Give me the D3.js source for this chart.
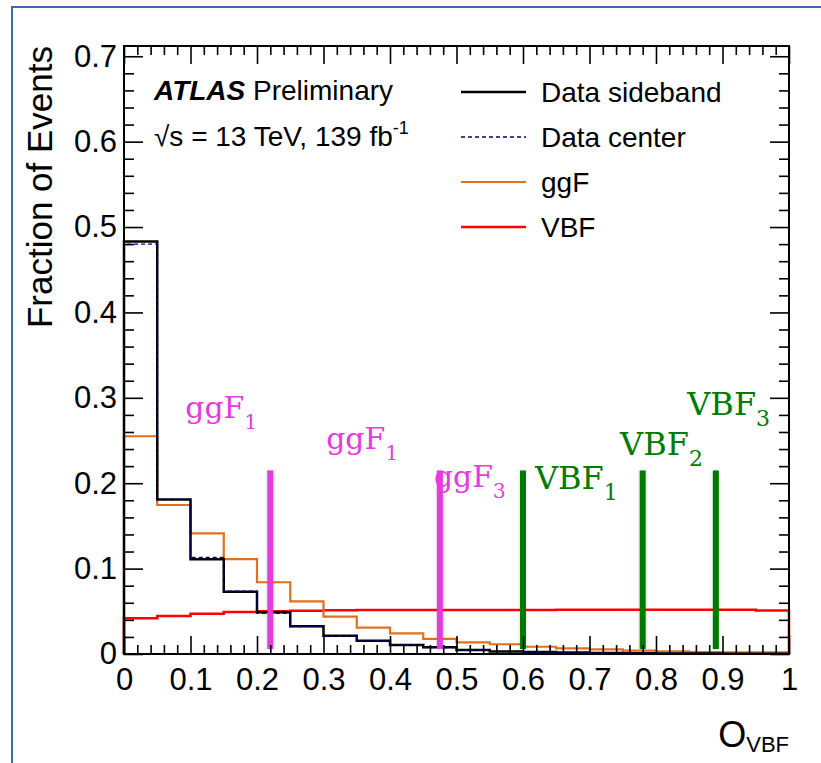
<!DOCTYPE html>
<html><head><meta charset="utf-8">
<script src="https://cdn.jsdelivr.net/npm/d3@7/dist/d3.min.js"></script>
<style>body{margin:0;background:#fff} svg{display:block}</style>
</head><body>
<svg id="c" width="821" height="763"></svg>
<script>
// ---------- data ----------
const binLow = [0.00,0.05,0.10,0.15,0.20,0.25,0.30,0.35,0.40,0.45,0.50,0.55,0.60,0.65,0.70,0.75,0.80,0.85,0.90,0.95];
const binWidth = 0.05;
const dataSideband = [0.483,0.181,0.111,0.073,0.049,0.0324,0.0215,0.0156,0.0105,0.0078,0.0047,0.0030,0.0023,0.0018,0.0012,0.0009,0.0007,0.0005,0.0004,0.0003];
const dataCenter   = [0.480,0.181,0.113,0.0735,0.0475,0.0320,0.0210,0.0153,0.0103,0.0075,0.0046,0.0030,0.0022,0.0017,0.0012,0.0009,0.0007,0.0005,0.0004,0.0003];
const ggF          = [0.255,0.1745,0.1413,0.111,0.084,0.0617,0.0437,0.0308,0.0242,0.0176,0.0137,0.0114,0.0085,0.0067,0.0055,0.0039,0.0030,0.0023,0.0020,0.0018];
const vbf          = [0.0418,0.0445,0.0472,0.0492,0.0500,0.0507,0.0512,0.0514,0.0515,0.0515,0.0515,0.0516,0.0516,0.0517,0.0517,0.0517,0.0518,0.0518,0.0517,0.0508];

const xTicks = [0,0.1,0.2,0.3,0.4,0.5,0.6,0.7,0.8,0.9,1];
const xTickLabels = ["0","0.1","0.2","0.3","0.4","0.5","0.6","0.7","0.8","0.9","1"];
const yTicks = [0,0.1,0.2,0.3,0.4,0.5,0.6,0.7];
const yTickLabels = ["0","0.1","0.2","0.3","0.4","0.5","0.6","0.7"];

const ggfCuts = [0.22, 0.475];
const vbfCuts = [0.60, 0.78, 0.89];
const cutRange = [0.006, 0.215];

const cutLabelNames = ["ggF","ggF","ggF","VBF","VBF","VBF"];
const cutLabelSubs  = ["1","1","3","1","2","3"];
const cutLabelX     = [0.092,0.304,0.466,0.618,0.746,0.847];
const cutLabelY     = [0.276,0.240,0.196,0.193,0.233,0.280];

const legendNames = ["Data sideband","Data center","ggF","VBF"];

// ---------- layout ----------
const svg = d3.select("#c");
const X0=124, X1=789, Y0=654, Y1=46;
const x = d3.scaleLinear().domain([0,1]).range([X0,X1]);
const y = d3.scaleLinear().domain([0,0.712]).range([Y0,Y1]);
const SANS = "'Liberation Sans', Arial, Helvetica, sans-serif";
const SERIF = "'DejaVu Serif', 'Liberation Serif', serif";

const colSide="#000000", colCenter="#000080", colGGF="#e0701a", colVBF="#ff0000";
const colMag="#e43ade", colGreen="#007a00";

// outer blue border
svg.append("rect").attr("x",12).attr("y",7).attr("width",900).attr("height",900)
  .attr("fill","none").attr("stroke","#3e6aa8").attr("stroke-width",2);

// defs: soft shadow for cut lines
const defs = svg.append("defs");
const f = defs.append("filter").attr("id","sh").attr("filterUnits","userSpaceOnUse")
  .attr("x",0).attr("y",0).attr("width",821).attr("height",763);
f.append("feGaussianBlur").attr("in","SourceAlpha").attr("stdDeviation",1.8).attr("result","b");
f.append("feComponentTransfer").attr("in","b").attr("result","b2")
  .append("feFuncA").attr("type","linear").attr("slope",0.22);
const m = f.append("feMerge"); m.append("feMergeNode").attr("in","b2"); m.append("feMergeNode").attr("in","SourceGraphic");

// histograms
function histPts(vals){
  const pts=[[binLow[0],0]];
  vals.forEach((v,i)=>{pts.push([binLow[i],v]);pts.push([binLow[i]+binWidth,v]);});
  pts.push([binLow[binLow.length-1]+binWidth,0]);
  return pts;
}
const line = d3.line().x(d=>x(d[0])).y(d=>y(d[1]));
const plot = svg.append("g");
plot.append("path").attr("d",line(histPts(vbf))).attr("fill","none").attr("stroke",colVBF).attr("stroke-width",2.5);
plot.append("path").attr("d",line(histPts(ggF))).attr("fill","none").attr("stroke",colGGF).attr("stroke-width",2.2);
plot.append("path").attr("d",line(histPts(dataSideband))).attr("fill","none").attr("stroke",colSide).attr("stroke-width",2.5);
plot.append("path").attr("d",line(histPts(dataCenter))).attr("fill","none").attr("stroke",colCenter).attr("stroke-width",1.3).attr("stroke-dasharray","4,3");

// cut lines
ggfCuts.forEach(c=>plot.append("line").attr("x1",x(c)).attr("x2",x(c)).attr("y1",y(cutRange[0])).attr("y2",y(cutRange[1]))
  .attr("stroke",colMag).attr("stroke-width",6).attr("filter","url(#sh)"));
vbfCuts.forEach(c=>plot.append("line").attr("x1",x(c)).attr("x2",x(c)).attr("y1",y(cutRange[0])).attr("y2",y(cutRange[1]))
  .attr("stroke",colGreen).attr("stroke-width",6).attr("filter","url(#sh)"));

// cut labels
cutLabelNames.forEach((n,i)=>{
  const big = n==="ggF" ? 30 : 32;
  const t = svg.append("text").attr("x",x(cutLabelX[i])).attr("y",y(cutLabelY[i]))
    .attr("font-family",SERIF).attr("font-size",big).attr("fill", n==="ggF"?colMag:colGreen);
  t.append("tspan").text(n);
  t.append("tspan").attr("font-size",Math.round(big*0.68)).attr("dy",11).text(cutLabelSubs[i]);
});

// axes
function styleAxis(g){ g.select(".domain").remove(); g.selectAll("line").attr("stroke","#000").attr("stroke-width",1.6);
  g.selectAll("text").attr("font-family",SANS).attr("font-size",31).attr("fill","#000"); }
const xMinor = d3.range(0,1.0001,0.02).filter(v=>Math.abs(v*10-Math.round(v*10))>1e-6);
const yMinor = d3.range(0,0.711,0.02).filter(v=>Math.abs(v*10-Math.round(v*10))>1e-6);

svg.append("g").attr("transform",`translate(0,${Y0})`)
  .call(d3.axisBottom(x).tickValues(xTicks).tickFormat((d,i)=>xTickLabels[i]).tickSizeInner(-18).tickSizeOuter(0).tickPadding(14)).call(styleAxis);
svg.append("g").attr("transform",`translate(0,${Y0})`)
  .call(d3.axisBottom(x).tickValues(xMinor).tickFormat("").tickSizeInner(-9).tickSizeOuter(0)).call(styleAxis);
svg.append("g").attr("transform",`translate(0,${Y1})`)
  .call(d3.axisTop(x).tickValues(xTicks).tickFormat("").tickSizeInner(-18).tickSizeOuter(0)).call(styleAxis);
svg.append("g").attr("transform",`translate(0,${Y1})`)
  .call(d3.axisTop(x).tickValues(xMinor).tickFormat("").tickSizeInner(-9).tickSizeOuter(0)).call(styleAxis);

svg.append("g").attr("transform",`translate(${X0},0)`)
  .call(d3.axisLeft(y).tickValues(yTicks).tickFormat((d,i)=>yTickLabels[i]).tickSizeInner(-19).tickSizeOuter(0).tickPadding(7)).call(styleAxis);
svg.append("g").attr("transform",`translate(${X0},0)`)
  .call(d3.axisLeft(y).tickValues(yMinor).tickFormat("").tickSizeInner(-10).tickSizeOuter(0)).call(styleAxis);
svg.append("g").attr("transform",`translate(${X1},0)`)
  .call(d3.axisRight(y).tickValues(yTicks).tickFormat("").tickSizeInner(-19).tickSizeOuter(0)).call(styleAxis);
svg.append("g").attr("transform",`translate(${X1},0)`)
  .call(d3.axisRight(y).tickValues(yMinor).tickFormat("").tickSizeInner(-10).tickSizeOuter(0)).call(styleAxis);

// frame
svg.append("rect").attr("x",X0).attr("y",Y1).attr("width",X1-X0).attr("height",Y0-Y1)
  .attr("fill","none").attr("stroke","#000").attr("stroke-width",2);

// axis titles
const xt = svg.append("text").attr("x",X1).attr("y",747).attr("text-anchor","end")
  .attr("font-family",SANS).attr("font-size",36);
xt.append("tspan").text("O");
xt.append("tspan").attr("font-size",22).attr("dy",5).text("VBF");
svg.append("text").attr("transform",`translate(52,${Y1}) rotate(-90)`).attr("text-anchor","end")
  .attr("font-family",SANS).attr("font-size",35).text("Fraction of Events");

// ATLAS label
const at = svg.append("text").attr("x",154).attr("y",100).attr("font-family",SANS).attr("font-size",28);
at.append("tspan").attr("font-weight","bold").attr("font-style","italic").text("ATLAS");
at.append("tspan").text(" Preliminary");
const en = svg.append("text").attr("x",154).attr("y",146).attr("font-family",SANS).attr("font-size",28);
en.append("tspan").text("\u221As = 13 TeV, 139 fb");
en.append("tspan").attr("font-size",18).attr("dy",-12).text("-1");

// legend
const legY = [92,137,182,227];
const legStroke = [colSide,colCenter,colGGF,colVBF];
const legW = [2.4,1.6,2.2,2.5];
const legDash = [null,"4,3",null,null];
legendNames.forEach((n,i)=>{
  svg.append("line").attr("x1",461).attr("x2",526).attr("y1",legY[i]).attr("y2",legY[i])
    .attr("stroke",legStroke[i]).attr("stroke-width",legW[i]).attr("stroke-dasharray",legDash[i]);
  svg.append("text").attr("x",541).attr("y",legY[i]+10).attr("font-family",SANS).attr("font-size",28).text(n);
});
</script>
</body></html>
